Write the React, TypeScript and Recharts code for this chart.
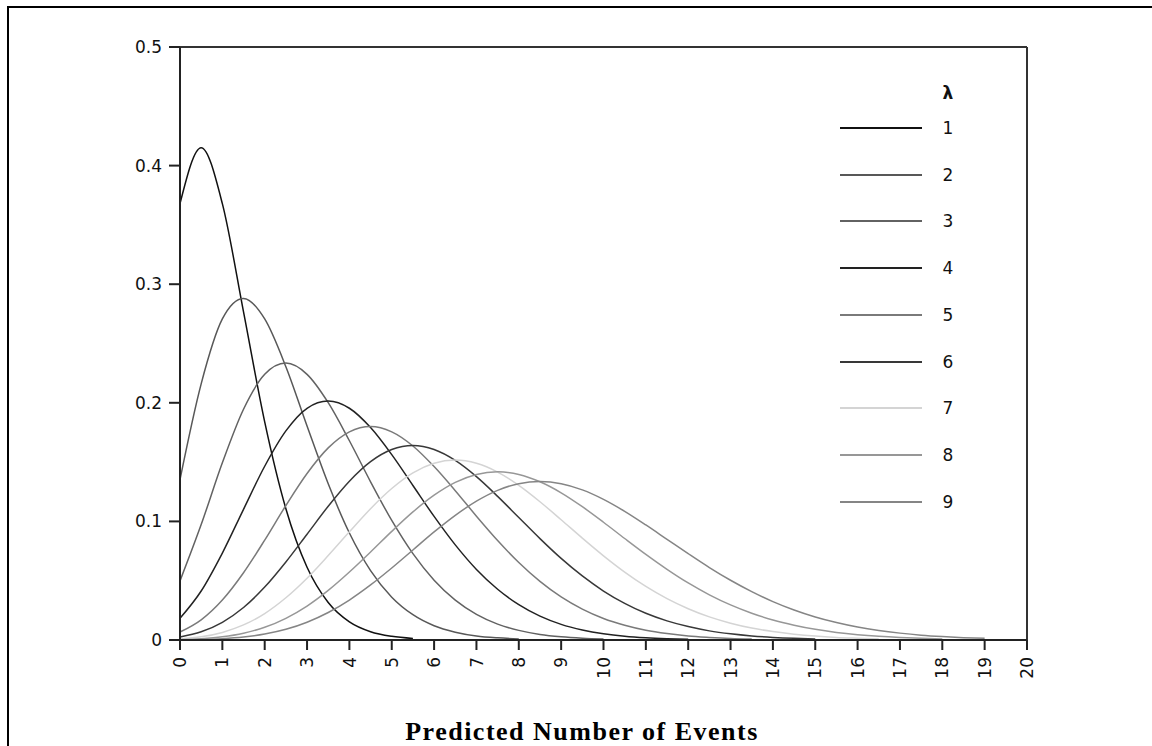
import { Legend, Line, LineChart, ReferenceLine, XAxis, YAxis } from "recharts";

// x positions (step 0.5)
const xValues = [
  0, 0.5, 1, 1.5, 2, 2.5, 3, 3.5, 4, 4.5, 5, 5.5, 6, 6.5, 7, 7.5, 8, 8.5, 9, 9.5, 10,
  10.5, 11, 11.5, 12, 12.5, 13, 13.5, 14, 14.5, 15, 15.5, 16, 16.5, 17, 17.5, 18, 18.5,
  19, 19.5, 20,
];

// curve heights, one list per lambda, starting at x = 0
const lambda1 = [0.3679, 0.4151, 0.3679, 0.2767, 0.1839, 0.1107, 0.0613, 0.0316, 0.0153, 0.007, 0.0031, 0.0013];
const lambda2 = [
  0.1353, 0.216, 0.2707, 0.288, 0.2707, 0.2304, 0.1804, 0.1317, 0.0902, 0.0585, 0.0361, 0.0213,
  0.012, 0.0066, 0.0034, 0.0018, 0.0009,
];
const lambda3 = [
  0.0498, 0.0973, 0.1494, 0.1946, 0.224, 0.2335, 0.224, 0.2001, 0.168, 0.1334, 0.1008, 0.0728,
  0.0504, 0.0336, 0.0216, 0.0134, 0.0081, 0.0047, 0.0027, 0.0015, 0.0008,
];
const lambda4 = [
  0.0183, 0.0413, 0.0733, 0.1102, 0.1465, 0.1763, 0.1954, 0.2015, 0.1954, 0.1791, 0.1563, 0.1303,
  0.1042, 0.0802, 0.0595, 0.0428, 0.0298, 0.0201, 0.0132, 0.0085, 0.0053, 0.0032, 0.0019, 0.0011,
  0.0006,
];
const lambda5 = [
  0.0067, 0.017, 0.0337, 0.0567, 0.0842, 0.1134, 0.1404, 0.162, 0.1755, 0.18, 0.1755, 0.1636,
  0.1462, 0.1259, 0.1044, 0.0839, 0.0653, 0.0494, 0.0363, 0.026, 0.0181, 0.0124, 0.0082, 0.0054,
  0.0034, 0.0022, 0.0013, 0.0008,
];
const lambda6 = [
  0.0025, 0.0069, 0.0149, 0.0274, 0.0446, 0.0658, 0.0892, 0.1128, 0.1339, 0.1504, 0.1606, 0.164,
  0.1606, 0.1514, 0.1377, 0.1211, 0.1033, 0.0855, 0.0688, 0.054, 0.0413, 0.0309, 0.0225, 0.0161,
  0.0113, 0.0077, 0.0052, 0.0034, 0.0022, 0.0014, 0.0009,
];
const lambda7 = [
  0.0009, 0.0027, 0.0064, 0.0127, 0.0223, 0.0356, 0.0521, 0.0712, 0.0912, 0.1107, 0.1277, 0.1409,
  0.149, 0.1517, 0.149, 0.1416, 0.1304, 0.1166, 0.1014, 0.0859, 0.071, 0.0573, 0.0452, 0.0349,
  0.0264, 0.0195, 0.0142, 0.0101, 0.0071, 0.0049, 0.0033, 0.0022, 0.0015, 0.0009,
];
const lambda8 = [
  0.0003, 0.0011, 0.0027, 0.0057, 0.0107, 0.0183, 0.0286, 0.0418, 0.0573, 0.0742, 0.0916, 0.108,
  0.1221, 0.1329, 0.1396, 0.1418, 0.1396, 0.1334, 0.1241, 0.1124, 0.0993, 0.0856, 0.0722, 0.0596,
  0.0481, 0.0381, 0.0296, 0.0226, 0.0169, 0.0125, 0.009, 0.0064, 0.0045, 0.0031, 0.0021, 0.0014,
  0.0009,
];
const lambda9 = [
  0.0001, 0.0004, 0.0011, 0.0025, 0.005, 0.009, 0.015, 0.0232, 0.0337, 0.0464, 0.0607, 0.0759,
  0.0911, 0.1051, 0.1171, 0.1262, 0.1318, 0.1336, 0.1318, 0.1266, 0.1186, 0.1085, 0.097, 0.0849,
  0.0728, 0.0611, 0.0504, 0.0408, 0.0324, 0.0253, 0.0194, 0.0147, 0.0109, 0.008, 0.0058, 0.0041,
  0.0029, 0.002, 0.0014,
];

const seriesValues = [lambda1, lambda2, lambda3, lambda4, lambda5, lambda6, lambda7, lambda8, lambda9];
const seriesNames = ["1", "2", "3", "4", "5", "6", "7", "8", "9"];
const seriesColors = [
  "#111111", "#585858", "#626262", "#222222", "#7a7a7a", "#383838", "#d4d4d4", "#979797", "#858585",
];

const xTicks = [0, 1, 2, 3, 4, 5, 6, 7, 8, 9, 10, 11, 12, 13, 14, 15, 16, 17, 18, 19, 20];
const yTicks = [0, 0.1, 0.2, 0.3, 0.4, 0.5];

const data = xValues.map((x, i) => {
  const row: Record<string, number | null> = { x };
  seriesValues.forEach((vals, s) => {
    row["s" + s] = i < vals.length ? vals[i] : null;
  });
  return row;
});

const AXIS = "#222";
const LABEL_FONT = "'DejaVu Sans', 'Liberation Sans', sans-serif";

function RotatedTick({ x, y, payload }: any) {
  return (
    <text
      x={x}
      y={y}
      transform={`rotate(-90, ${x}, ${y})`}
      textAnchor="end"
      dy="0.36em"
      fill="#111"
      fontSize={17}
      fontFamily={LABEL_FONT}
    >
      {payload.value}
    </text>
  );
}

function LambdaLegend({ payload }: any) {
  const items = [...(payload ?? [])].sort((a: any, b: any) => Number(a.value) - Number(b.value));
  return (
    <div style={{ position: "relative", width: 140, height: 460, fontFamily: LABEL_FONT, fontSize: 17, color: "#111" }}>
      <div style={{ position: "absolute", left: 108, width: 20, top: 2, textAlign: "center", fontWeight: "bold", lineHeight: "22px" }}>
        λ
      </div>
      {items.map((p: any, i: number) => (
        <div key={p.value} style={{ position: "absolute", left: 0, top: 37 + i * 46.7, height: 22, width: 140 }}>
          <div style={{ position: "absolute", left: 10, top: 10, width: 82, height: 2, background: p.color }} />
          <div style={{ position: "absolute", left: 108, width: 20, top: 0, textAlign: "center", lineHeight: "22px" }}>
            {p.value}
          </div>
        </div>
      ))}
    </div>
  );
}

export default function App() {
  return (
    <div style={{ position: "absolute", left: 0, top: 0, width: 1152, height: 746, overflow: "hidden", background: "#fff" }}>
      <div
        style={{
          position: "absolute",
          left: 7,
          top: 6,
          width: 1300,
          height: 900,
          borderTop: "2px solid #000",
          borderLeft: "2px solid #000",
        }}
      />
      <div style={{ position: "absolute", left: 0, top: 0 }}>
        <LineChart width={1152} height={746} data={data} margin={{ top: 47, right: 125, bottom: 56, left: 120 }}>
          <XAxis
            type="number"
            dataKey="x"
            domain={[0, 20]}
            ticks={xTicks}
            interval={0}
            height={50}
            tickSize={10}
            tickMargin={7}
            axisLine={{ stroke: AXIS, strokeWidth: 2 }}
            tickLine={{ stroke: AXIS, strokeWidth: 2 }}
            tick={<RotatedTick />}
          />
          <YAxis
            type="number"
            domain={[0, 0.5]}
            ticks={yTicks}
            interval={0}
            width={60}
            tickSize={11}
            tickMargin={7}
            axisLine={{ stroke: AXIS, strokeWidth: 2 }}
            tickLine={{ stroke: AXIS, strokeWidth: 2 }}
            tick={{ fill: "#111", fontSize: 17, fontFamily: LABEL_FONT }}
          />
          <ReferenceLine y={0.5} stroke="#333" strokeWidth={2} />
          <ReferenceLine x={20} stroke="#333" strokeWidth={2} />
          <Legend
            layout="vertical"
            align="center"
            verticalAlign="middle"
            wrapperStyle={{ left: 830, top: 80, width: 140 }}
            content={<LambdaLegend />}
          />
          {seriesNames.map((name, s) => (
            <Line
              key={name}
              type="monotone"
              dataKey={"s" + s}
              name={name}
              stroke={seriesColors[s]}
              strokeWidth={1.5}
              dot={false}
              activeDot={false}
              connectNulls={false}
              isAnimationActive={false}
            />
          ))}
        </LineChart>
      </div>
      <div
        style={{
          position: "absolute",
          left: 582,
          top: 719,
          transform: "translateX(-50%)",
          whiteSpace: "nowrap",
          fontFamily: "'Liberation Serif', 'Times New Roman', serif",
          fontWeight: "bold",
          fontSize: 26,
          letterSpacing: 1.5,
          lineHeight: "26px",
          color: "#000",
        }}
      >
        Predicted Number of Events
      </div>
    </div>
  );
}
